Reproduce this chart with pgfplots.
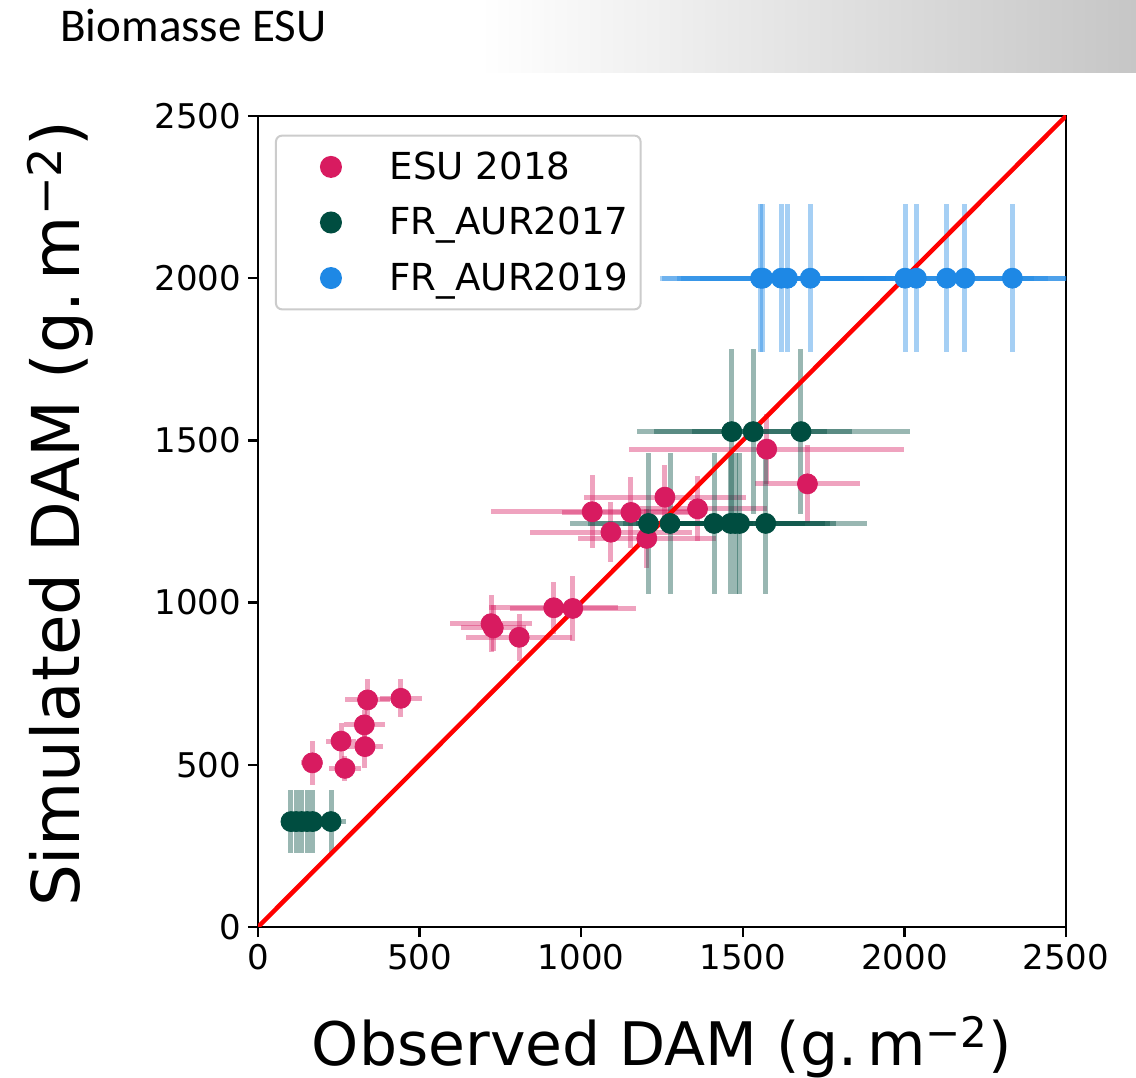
\documentclass[border=0pt]{standalone}
\usepackage{pgfplots}
\pgfplotsset{compat=1.18}
\usepackage{pgfplotstable}
\usepackage{fontspec}
\setmainfont{DejaVu Sans}
\newfontfamily\titlefont{Carlito}

\definecolor{esu}{HTML}{D81B60}
\definecolor{aurA}{HTML}{004D40}
\definecolor{aurB}{HTML}{1E88E5}
\definecolor{legframe}{RGB}{204,204,204}

% x y ex ey  (DAM, g.m-2)
\pgfplotstableread{
x y ex ey
168 506 34 68
269 489 49 38
257 573 47 57
331 556 57 65
329 623 64 45
339 700 70 66
442 705 66 58
721 935 127 88
728 922 100 70
808 893 165 72
915 984 200 80
974 982 195 100
1034 1280 313 113
1092 1217 250 93
1154 1278 214 110
1203 1198 214 90
1259 1325 250 100
1360 1289 214 100
1574 1473 425 108
1700 1366 162 120
}\esu

\pgfplotstableread{
x y ex ey
102 325 20 98
118 325 24 98
135 325 27 98
152 325 30 98
169 325 34 98
226 325 45 98
1208 1244 242 217
1275 1244 255 217
1411 1244 282 217
1462 1244 292 217
1476 1244 295 217
1490 1244 298 217
1571 1244 314 217
1466 1527 293 255
1532 1527 306 255
1680 1527 336 255
}\aurA

\pgfplotstableread{
x y ex ey
1555 2000 311 228
1562 2000 312 228
1619 2000 324 228
1638 2000 328 228
1709 2000 342 228
2002 2000 400 228
2037 2000 407 228
2131 2000 426 228
2187 2000 437 228
2334 2000 467 228
}\aurB

\begin{document}
\begin{tikzpicture}
\useasboundingbox (0,0) rectangle (568bp,539bp);
\fill[white] (0,0) rectangle (568bp,539bp);
\shade[left color=white, right color={rgb,255:red,198;green,198;blue,198}]
  (240bp,502.5bp) rectangle (568bp,539bp);
\node[anchor=base west, inner sep=0pt, font=\titlefont\fontsize{23.5bp}{28bp}\selectfont]
  at (30bp,518bp) {Biomasse ESU};

\begin{axis}[
  at={(129bp,75.5bp)}, anchor=south west,
  scale only axis,
  width=404bp, height=405.5bp,
  xmin=0, xmax=2500, ymin=0, ymax=2500,
  xtick={0,500,...,2500}, ytick={0,500,...,2500},
  axis line style={line width=1.25bp},
  tick style={line width=1.25bp, black},
  major tick length=5bp,
  tick align=outside, tick pos=left,
  /pgf/number format/assume math mode=true,
  /pgf/number format/1000 sep={},
  ticklabel style={font=\fontsize{17bp}{20bp}\selectfont},
  xlabel={Observed DAM (g.\,m\textsuperscript{−2})},
  ylabel={Simulated DAM (g.\,m\textsuperscript{−2})},
  xlabel style={font=\fontsize{30bp}{34bp}\selectfont,
    at={(axis description cs:0.5,-0.171)}, anchor=base},
  ylabel style={font=\fontsize{33bp}{38bp}\selectfont,
    at={(axis description cs:-0.2215,0.5093)}, anchor=base},
  legend cell align=left,
  legend style={at={(0.021,0.977)}, anchor=north west,
    draw=legframe, line width=1bp, rounded corners=3bp,
    font=\fontsize{18.6bp}{22bp}\selectfont,
    inner xsep=4bp, inner ysep=6bp, row sep=8.5bp,
    /tikz/every odd column/.append style={column sep=6.8bp}},
  legend image code/.code={
    \path[draw=none, fill=none] (0bp,-5bp) rectangle (44bp,5bp);
    \draw[#1, /tikz/only marks] plot coordinates {(23.5bp,0bp)};
  },
]
\addplot[only marks, mark=*, mark size=5bp, color=esu,
  error bars/.cd, x dir=both, x explicit, y dir=both, y explicit,
  error mark=none, error bar style={line width=2.5bp, esu, opacity=0.4}]
  table[x=x, y=y, x error=ex, y error=ey] {\esu};
\addlegendentry{ESU 2018}
\addplot[only marks, mark=*, mark size=5bp, color=aurA,
  error bars/.cd, x dir=both, x explicit, y dir=both, y explicit,
  error mark=none, error bar style={line width=2.5bp, aurA, opacity=0.4}]
  table[x=x, y=y, x error=ex, y error=ey] {\aurA};
\addlegendentry{FR\_AUR2017}
\addplot[only marks, mark=*, mark size=5bp, color=aurB,
  error bars/.cd, x dir=both, x explicit, y dir=both, y explicit,
  error mark=none, error bar style={line width=2.5bp, aurB, opacity=0.4}]
  table[x=x, y=y, x error=ex, y error=ey] {\aurB};
\addlegendentry{FR\_AUR2019}
\addplot[red, line width=2.25bp, no markers, forget plot] coordinates {(0,0) (2500,2500)};
\end{axis}
\end{tikzpicture}
\end{document}
